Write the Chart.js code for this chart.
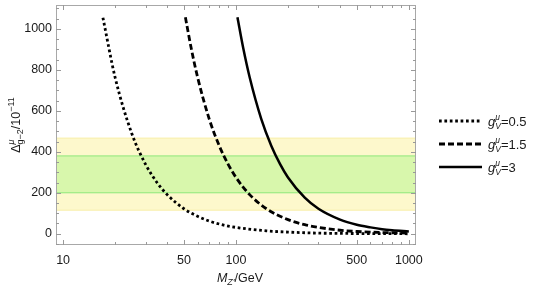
<!DOCTYPE html>
<html>
<head>
<meta charset="utf-8">
<script src="https://cdn.jsdelivr.net/npm/chart.js@4.4.1/dist/chart.umd.min.js"></script>
<style>
html, body { margin: 0; padding: 0; background: #fff; }
</style>
</head>
<body>
<canvas id="myChart" width="540" height="287"></canvas>
<script>
// values
const mDotted = [17, 20, 25, 30, 35, 40, 50, 60, 70, 85, 100, 150, 200, 300, 500, 1000];
const yDotted = [1055, 763, 488, 339, 249, 191, 122, 85, 62, 42, 31, 14, 8, 3, 1, 0];
const mDashed = [51, 55, 60, 70, 80, 90, 100, 120, 150, 200, 250, 300, 400, 500, 700, 1000];
const yDashed = [1057, 909, 764, 561, 430, 340, 275, 191, 122, 69, 44, 31, 17, 11, 6, 3];
const mSolid = [102, 110, 120, 140, 160, 180, 200, 250, 300, 400, 500, 600, 700, 800, 1000];
const ySolid = [1057, 909, 764, 561, 430, 340, 275, 176, 122, 69, 44, 31, 22, 17, 11];

const legendLabels = ['0.5', '1.5', '3'];
const bandYellow = [115, 467];
const bandGreen = [200, 380];

const xTickLabels = [10, 50, 100, 500, 1000];
const xMinorTicks = [20, 30, 40, 60, 70, 80, 90, 200, 300, 400, 600, 700, 800, 900];
const yTickLabels = [0, 200, 400, 600, 800, 1000];
const yMinorTicks = [-50, 50, 100, 150, 250, 300, 350, 450, 500, 550, 650, 700, 750, 850, 900, 950, 1050, 1100];

const toPoints = (xs, ys) => xs.map((x, i) => ({ x: x, y: ys[i] }));

const FONT = '"Liberation Sans", Arial, sans-serif';

// text with sub/superscripts, parts = [{t, font, dy, stack}]
function drawRich(ctx, parts, x, y, align) {
  const widths = parts.map(p => {
    ctx.font = p.font;
    return ctx.measureText(p.t).width;
  });
  let cur = 0;
  const pos = [];
  parts.forEach((p, i) => {
    if (p.stack) {
      // sits under the previous part
      pos.push(cur - widths[i - 1]);
      if (widths[i] > widths[i - 1]) cur += widths[i] - widths[i - 1];
    } else {
      pos.push(cur);
      cur += widths[i];
    }
  });
  let x0 = x;
  if (align === 'center') x0 = x - cur / 2;
  parts.forEach((p, i) => {
    ctx.font = p.font;
    ctx.fillText(p.t, x0 + pos[i], y + (p.dy || 0));
  });
}

const decor = {
  id: 'decor',
  beforeDatasetsDraw(chart) {
    const ctx = chart.ctx;
    const a = chart.chartArea;
    const ys = chart.scales.y;
    const band = (lo, hi, fill, edge) => {
      const top = ys.getPixelForValue(hi), bot = ys.getPixelForValue(lo);
      ctx.fillStyle = fill;
      ctx.fillRect(a.left + 1, top, a.right - a.left - 2, bot - top);
      ctx.strokeStyle = edge;
      ctx.lineWidth = 1;
      ctx.beginPath();
      ctx.moveTo(a.left + 1, top); ctx.lineTo(a.right - 1, top);
      ctx.moveTo(a.left + 1, bot); ctx.lineTo(a.right - 1, bot);
      ctx.stroke();
    };
    ctx.save();
    band(bandYellow[0], bandYellow[1], '#fdf8cc', '#f8efa8');
    band(bandGreen[0], bandGreen[1], '#d8f7ac', '#8ee87a');
    ctx.restore();
  },
  afterDraw(chart) {
    const ctx = chart.ctx;
    const a = chart.chartArea;
    const xs = chart.scales.x, ys = chart.scales.y;
    ctx.save();
    // frame
    ctx.strokeStyle = '#a8a8a8';
    ctx.lineWidth = 1;
    ctx.strokeRect(a.left + 0.5, a.top + 0.5, a.right - a.left - 1, a.bottom - a.top - 1);
    // ticks, inward on all four sides
    ctx.strokeStyle = '#999';
    ctx.beginPath();
    const xt = (v, len) => {
      const p = Math.round(xs.getPixelForValue(v)) + 0.5;
      ctx.moveTo(p, a.bottom); ctx.lineTo(p, a.bottom - len);
      ctx.moveTo(p, a.top); ctx.lineTo(p, a.top + len);
    };
    const yt = (v, len) => {
      const p = Math.round(ys.getPixelForValue(v)) + 0.5;
      ctx.moveTo(a.left, p); ctx.lineTo(a.left + len, p);
      ctx.moveTo(a.right, p); ctx.lineTo(a.right - len, p);
    };
    xTickLabels.forEach(v => xt(v, 5));
    xMinorTicks.forEach(v => xt(v, 3));
    yTickLabels.forEach(v => yt(v, 5));
    yMinorTicks.forEach(v => yt(v, 3));
    ctx.stroke();

    // tick labels
    ctx.fillStyle = '#1a1a1a';
    ctx.font = '12.5px ' + FONT;
    ctx.textBaseline = 'middle';
    ctx.textAlign = 'center';
    xTickLabels.forEach(v => ctx.fillText(String(v), xs.getPixelForValue(v), a.bottom + 16));
    ctx.textAlign = 'right';
    yTickLabels.forEach(v => ctx.fillText(String(v), a.left - 4, ys.getPixelForValue(v)));

    // axis titles
    ctx.textAlign = 'left';
    ctx.textBaseline = 'alphabetic';
    drawRich(ctx, [
      { t: 'M', font: 'italic 12.5px ' + FONT },
      { t: "Z'", font: 'italic 9px ' + FONT, dy: 3 },
      { t: '/GeV', font: '12.5px ' + FONT }
    ], 240, 282, 'center');

    ctx.save();
    ctx.translate(20, 125);
    ctx.rotate(-Math.PI / 2);
    drawRich(ctx, [
      { t: '\u0394', font: '12.5px ' + FONT },
      { t: '\u03bc', font: 'italic 9px ' + FONT, dy: -6 },
      { t: 'g\u22122', font: '9px ' + FONT, dy: 3, stack: true },
      { t: '/10', font: '12.5px ' + FONT },
      { t: '\u221211', font: '9px ' + FONT, dy: -6 }
    ], 0, 0, 'center');
    ctx.restore();

    // legend
    const rows = [121, 144, 167];
    chart.data.datasets.forEach((ds, i) => {
      const y = rows[i];
      ctx.strokeStyle = '#000';
      ctx.lineWidth = ds.borderWidth;
      ctx.setLineDash(ds.borderDash || []);
      ctx.beginPath();
      ctx.moveTo(439, y); ctx.lineTo(482, y);
      ctx.stroke();
      ctx.setLineDash([]);
      ctx.fillStyle = '#1a1a1a';
      drawRich(ctx, [
        { t: 'g', font: 'italic 13px ' + FONT },
        { t: '\u03bc', font: 'italic 8.5px ' + FONT, dy: -6 },
        { t: 'V', font: 'italic 8.5px ' + FONT, dy: 3, stack: true },
        { t: '=' + legendLabels[i], font: '13px ' + FONT }
      ], 488, y + 5, 'left');
    });
    ctx.restore();
  }
};

new Chart('myChart', {
  type: 'scatter',
  data: {
    datasets: [{
      data: toPoints(mDotted, yDotted),
      borderColor: '#000',
      borderWidth: 2.8,
      borderDash: [2.7, 2.7],
      showLine: true,
      pointRadius: 0,
      cubicInterpolationMode: 'monotone'
    }, {
      data: toPoints(mDashed, yDashed),
      borderColor: '#000',
      borderWidth: 2.8,
      borderDash: [6, 3],
      showLine: true,
      pointRadius: 0,
      cubicInterpolationMode: 'monotone'
    }, {
      data: toPoints(mSolid, ySolid),
      borderColor: '#000',
      borderWidth: 2.5,
      showLine: true,
      pointRadius: 0,
      cubicInterpolationMode: 'monotone'
    }]
  },
  options: {
    responsive: false,
    animation: false,
    layout: { padding: { left: 0, right: 124, top: 5, bottom: 0 } },
    plugins: { legend: { display: false }, tooltip: { enabled: false } },
    scales: {
      x: {
        type: 'logarithmic',
        min: 9.1,
        max: 1100,
        grid: { display: false },
        border: { display: false },
        ticks: { display: false },
        afterFit: s => { s.height = 42; }
      },
      y: {
        min: -55,
        max: 1117,
        grid: { display: false },
        border: { display: false },
        ticks: { display: false },
        afterFit: s => { s.width = 56; }
      }
    }
  },
  plugins: [decor]
});
</script>
</body>
</html>
